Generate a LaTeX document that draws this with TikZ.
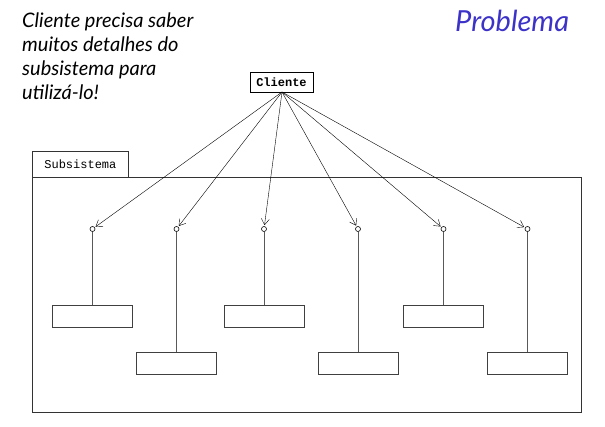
\documentclass[tikz,border=0pt]{standalone}
\usepackage{fontspec}
\setmainfont{Lato}
\newfontfamily\monof{Liberation Mono}
\usetikzlibrary{arrows.meta}
\definecolor{probblue}{RGB}{60,50,200}
\begin{document}
\begin{tikzpicture}[x=1pt,y=-1pt,
  comp/.style={draw=black!75, line width=0.9pt, minimum width=80pt, minimum height=22pt, inner sep=0pt},
  lolli/.style={circle, draw=black, line width=0.6pt, minimum size=5pt, inner sep=0pt, fill=white},
  stem/.style={draw=black!65, line width=0.9pt},
  dep/.style={draw=black, line width=0.4pt, -{Straight Barb[length=6pt,width=8pt,line width=0.4pt]}, shorten >=1pt}
]
\useasboundingbox (0,0) rectangle (605,427);
% text
\node[anchor=north west, align=left, font=\itshape\fontsize{20}{24}\selectfont, inner sep=0pt] (txt) at (22,13)
  {Cliente precisa saber\\muitos detalhes do\\subsistema para\\utilizá-lo!};
\node[anchor=north west, font=\itshape\fontsize{29}{32}\selectfont, text=probblue, inner sep=0pt] (prob) at (455,10) {Problema};
% cliente
\node[draw=black, line width=0.7pt, minimum width=63pt, minimum height=20pt, inner sep=0pt, font=\monof\bfseries\fontsize{12}{14}\selectfont] (cli) at (281.5,82) {Cliente};
% subsistema package
\node[draw=black!80, line width=0.8pt, anchor=north west, minimum width=96pt, minimum height=26pt, inner sep=0pt, font=\monof\fontsize{12}{14}\selectfont] (tab) at (32,151) {Subsistema};
\node[draw=black!80, line width=0.9pt, anchor=north west, minimum width=549pt, minimum height=235pt, inner sep=0pt] (pkg) at (32,177) {};
% components
\node[comp] (c1) at (92.5,316) {};
\node[comp] (c2) at (176.5,363.5) {};
\node[comp] (c3) at (264,316) {};
\node[comp] (c4) at (358,363.5) {};
\node[comp] (c5) at (443.5,316) {};
\node[comp] (c6) at (527.5,363.5) {};
% lollipops
\foreach \i/\x in {1/92.5,2/176.5,3/264,4/358,5/443.5,6/527.5}{
  \node[lolli] (l\i) at (\x,229) {};
  \draw[stem] (l\i.south) -- (c\i.north);
}
% dependencies
\coordinate (o) at (282,92);
\foreach \i in {1,...,6}{
  \draw[dep] (o) -- (l\i);
}
\end{tikzpicture}
\end{document}
